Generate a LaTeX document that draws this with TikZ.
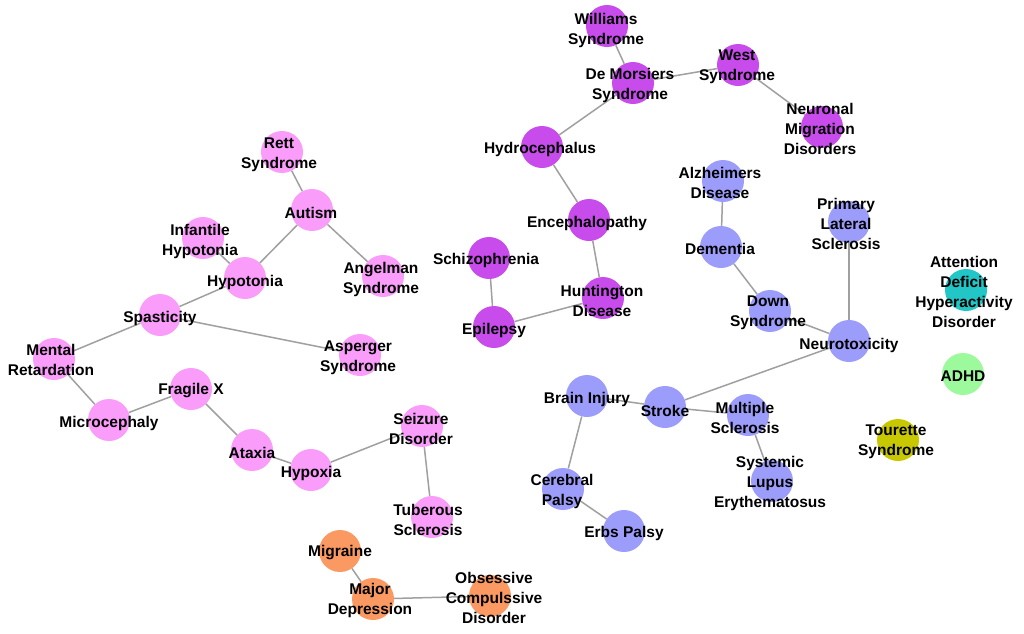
\documentclass[tikz,border=0pt]{standalone}
\usepackage{fontspec}
\setmainfont{Liberation Sans}
\definecolor{cpink}{HTML}{FA9CFA}
\definecolor{cpurple}{HTML}{C84BEB}
\definecolor{cblue}{HTML}{9C9CFA}
\definecolor{cteal}{HTML}{22C6C6}
\definecolor{cgreen}{HTML}{9CFA9C}
\definecolor{colive}{HTML}{C8C800}
\definecolor{corange}{HTML}{FA9A62}
\definecolor{cedge}{HTML}{A0A0A0}
\tikzset{
  dot/.style={circle,minimum size=42pt,inner sep=0pt,draw=none},
  pk/.style={dot,fill=cpink},
  pu/.style={dot,fill=cpurple},
  bl/.style={dot,fill=cblue},
  orr/.style={dot,fill=corange},
  lbl/.style={align=center,inner sep=0pt,yshift=-2pt,font=\fontsize{15.5pt}{20pt}\selectfont\bfseries,text=black},
  edge/.style={draw=cedge,line width=1.5pt}
}
\begin{document}
\begin{tikzpicture}[x=1pt,y=-1pt]
\useasboundingbox[fill=white] (0,0) rectangle (1024,633);
% pink
\node[pk] (rett) at (282,152) {};
\node[pk] (autism) at (312,210) {};
\node[pk] (infhyp) at (203,238) {};
\node[pk] (hypot) at (245,278) {};
\node[pk] (angel) at (383,276) {};
\node[pk] (spast) at (160,315) {};
\node[pk] (asper) at (360,355) {};
\node[pk] (mental) at (54,359) {};
\node[pk] (fragx) at (191,389) {};
\node[pk] (micro) at (109,420) {};
\node[pk] (ataxia) at (252,450) {};
\node[pk] (hypox) at (311,470) {};
\node[pk] (seiz) at (422,426) {};
\node[pk] (tuber) at (432,517) {};
% purple
\node[pu] (will) at (607,26) {};
\node[pu] (demor) at (633,83) {};
\node[pu] (west) at (738,65) {};
\node[pu] (neur) at (822,127) {};
\node[pu] (hydro) at (542,147) {};
\node[pu] (enceph) at (589,220) {};
\node[pu] (schiz) at (489,258) {};
\node[pu] (hunt) at (603,298) {};
\node[pu] (epil) at (494,327) {};
% blue
\node[bl] (alz) at (723,181) {};
\node[bl] (dem) at (721,247) {};
\node[bl] (down) at (770,311) {};
\node[bl] (pls) at (849,222) {};
\node[bl] (ntox) at (849,341) {};
\node[bl] (brain) at (587,396) {};
\node[bl] (stroke) at (665,407) {};
\node[bl] (ms) at (748,415) {};
\node[bl] (sle) at (772,481) {};
\node[bl] (cp) at (563,489) {};
\node[bl] (erbs) at (624,531) {};
% others
\node[dot,fill=cteal] (attn) at (966,290) {};
\node[dot,fill=cgreen] (adhd) at (963,374) {};
\node[dot,fill=colive] (tour) at (898,440) {};
\node[orr] (migr) at (340,551) {};
\node[orr] (majd) at (373,599) {};
\node[orr] (ocd) at (490,596) {};
% edges
\foreach \a/\b in {rett/autism,autism/hypot,autism/angel,infhyp/hypot,hypot/spast,spast/mental,spast/asper,mental/micro,micro/fragx,fragx/ataxia,ataxia/hypox,hypox/seiz,seiz/tuber,
 will/demor,demor/west,west/neur,demor/hydro,hydro/enceph,enceph/hunt,hunt/epil,schiz/epil,
 alz/dem,dem/down,down/ntox,pls/ntox,ntox/stroke,stroke/brain,stroke/ms,ms/sle,brain/cp,cp/erbs,
 migr/majd,majd/ocd}
 \draw[edge] (\a) -- (\b);
% labels
\node[lbl] (t-rett) at (279,153) {Rett\\Syndrome};
\node[lbl] (t-autism) at (311,211) {Autism};
\node[lbl] (t-infhyp) at (200,239) {Infantile\\Hypotonia};
\node[lbl] (t-hypot) at (245,280) {Hypotonia};
\node[lbl] (t-angel) at (381,277) {Angelman\\Syndrome};
\node[lbl] (t-spast) at (160,316) {Spasticity};
\node[lbl] (t-asper) at (358,356) {Asperger\\Syndrome};
\node[lbl] (t-mental) at (51,358) {Mental\\Retardation};
\node[lbl] (t-fragx) at (191,389) {Fragile X};
\node[lbl] (t-micro) at (109,421) {Microcephaly};
\node[lbl] (t-ataxia) at (252,451) {Ataxia};
\node[lbl] (t-hypox) at (311,471) {Hypoxia};
\node[lbl] (t-seiz) at (421,427) {Seizure\\Disorder};
\node[lbl] (t-tuber) at (428,518) {Tuberous\\Sclerosis};
\node[lbl] (t-will) at (606,28) {Williams\\Syndrome};
\node[lbl] (t-demor) at (630,83) {De Morsiers\\Syndrome};
\node[lbl] (t-west) at (737,65) {West\\Syndrome};
\node[lbl] (t-neur) at (820,127) {Neuronal\\Migration\\Disorders};
\node[lbl] (t-hydro) at (540,147) {Hydrocephalus};
\node[lbl] (t-enceph) at (587,221) {Encephalopathy};
\node[lbl] (t-schiz) at (486,258) {Schizophrenia};
\node[lbl] (t-hunt) at (602,299) {Huntington\\Disease};
\node[lbl] (t-epil) at (494,328) {Epilepsy};
\node[lbl] (t-alz) at (720,181) {Alzheimers\\Disease};
\node[lbl] (t-dem) at (720,247) {Dementia};
\node[lbl] (t-down) at (768,311) {Down\\Syndrome};
\node[lbl] (t-pls) at (846,222) {Primary\\Lateral\\Sclerosis};
\node[lbl] (t-ntox) at (849,343) {Neurotoxicity};
\node[lbl] (t-brain) at (587,397) {Brain Injury};
\node[lbl] (t-stroke) at (665,409) {Stroke};
\node[lbl] (t-ms) at (745,416) {Multiple\\Sclerosis};
\node[lbl] (t-sle) at (770,481) {Systemic\\Lupus\\Erythematosus};
\node[lbl] (t-cp) at (562,489) {Cerebral\\Palsy};
\node[lbl] (t-erbs) at (624,531) {Erbs Palsy};
\node[lbl] (t-attn) at (964,290) {Attention\\Deficit\\Hyperactivity\\Disorder};
\node[lbl] (t-adhd) at (963,374) {ADHD};
\node[lbl] (t-tour) at (896,440) {Tourette\\Syndrome};
\node[lbl] (t-migr) at (340,551) {Migraine};
\node[lbl] (t-majd) at (370,598) {Major\\Depression};
\node[lbl] (t-ocd) at (494,596) {Obsessive\\Compulssive\\Disorder};
\end{tikzpicture}
\end{document}
